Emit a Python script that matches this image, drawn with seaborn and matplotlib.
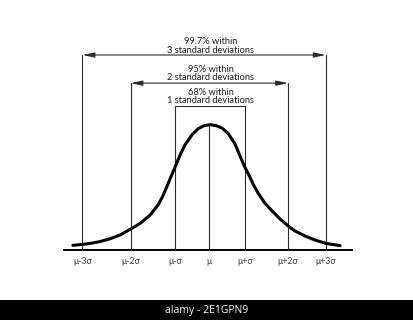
import matplotlib
matplotlib.use("Agg")
import matplotlib.pyplot as plt
import seaborn as sns
import pandas as pd
from matplotlib.patches import Rectangle

# ---- data (x in sigma-like units, y in density units) ----
curve_x = [-3.41, -3.16, -2.98, -2.73, -2.48, -2.23, -1.98, -1.73, -1.48, -1.28, -1.16,
           -1.06, -0.98, -0.86, -0.73, -0.61, -0.43, -0.28, -0.13, 0.02,
           0.17, 0.32, 0.47, 0.64, 0.77, 0.89, 1.02, 1.09, 1.22, 1.39, 1.57, 1.77,
           1.97, 2.14, 2.39, 2.64, 2.92, 3.27]
curve_y = [0.015, 0.018, 0.021, 0.027, 0.036, 0.048, 0.066, 0.085, 0.112, 0.144, 0.173,
           0.203, 0.228, 0.264, 0.304, 0.336, 0.369, 0.388, 0.398, 0.401,
           0.398, 0.390, 0.373, 0.340, 0.300, 0.265, 0.232, 0.212, 0.182, 0.150, 0.125, 0.099,
           0.077, 0.061, 0.045, 0.032, 0.021, 0.014]

tick_pos = [-3.17, -1.97, -0.85, 0.0, 0.89, 1.97, 2.91]
tick_labels = ["μ-3σ", "μ-2σ", "μ-σ", "μ", "μ+σ", "μ+2σ", "μ+3σ"]

band_labels = ["99.7% within\n3 standard deviations",
               "95% within\n2 standard deviations",
               "68% within\n1 standard deviations"]
band_levels = [0.624, 0.534, 0.461]
band_text_y = [0.652, 0.565, 0.491]
band_k = [3, 2, 1]
peak = 0.401
axis_range = [-3.66, 3.59]

sns.set_style("white")
plt.rcParams['font.family'] = ['Lato', 'DejaVu Sans']

fig = plt.figure(figsize=(4.13, 3.2), dpi=100)
ax = fig.add_axes([0, 0, 1, 1])
ax.set_xlim(-5.2325, 5.0925)
ax.set_ylim(-0.224, 0.8)
ax.axis("off")

line_c = "#2b2b2b"

# baseline
ax.plot(axis_range, [0, 0], color="black", lw=1.4, solid_capstyle="butt")

# vertical sigma lines
idx = {3: (0, 6), 2: (1, 5), 1: (2, 4)}
for k, lvl in zip(band_k, band_levels):
    for i in idx[k]:
        ax.plot([tick_pos[i], tick_pos[i]], [0, lvl], color=line_c, lw=0.8)
# centre line
ax.plot([tick_pos[3], tick_pos[3]], [0, peak], color=line_c, lw=0.8)

# brackets / arrows
for k, lvl, lab, ty in zip(band_k, band_levels, band_labels, band_text_y):
    i0, i1 = idx[k]
    if k == 1:
        ax.plot([tick_pos[i0], tick_pos[i1]], [lvl, lvl], color=line_c, lw=0.8)
    else:
        ax.annotate("", xy=(tick_pos[i0], lvl), xytext=(tick_pos[i1], lvl),
                    arrowprops=dict(arrowstyle="<|-|>,head_length=0.7,head_width=0.15",
                                    color=line_c, lw=0.8, shrinkA=0, shrinkB=0))
    ax.text(0.03, ty, lab, ha="center", va="center", fontsize=6.7,
            color="#1a1a1a", linespacing=0.95)

# curve
df = pd.DataFrame({"x": curve_x, "y": curve_y})
sns.lineplot(data=df, x="x", y="y", ax=ax, color="black", lw=2.2, sort=False)
ax.set_xlabel("")
ax.set_ylabel("")

# tick labels
for p, t in zip(tick_pos, tick_labels):
    ax.text(p, -0.038, t, ha="center", va="center", fontsize=6.3, color="#3a3a3a")

# watermark band
fig.patches.append(Rectangle((0, 0), 1, 20 / 320, transform=fig.transFigure,
                             facecolor="black", edgecolor="none", zorder=5))
fig.text(0.5, 10 / 320, "alamy - 2E1GPN9", ha="center", va="center", color="white",
         fontsize=7.5, family=["Open Sans", "DejaVu Sans"], zorder=6)

fig.savefig("out.png", dpi=100, facecolor="white")
